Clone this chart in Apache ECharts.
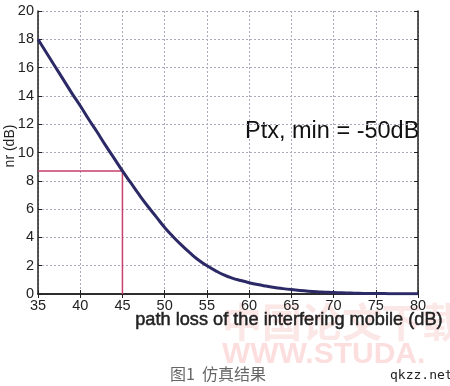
<!DOCTYPE html>
<html><head><meta charset="utf-8">
<script src="https://cdn.jsdelivr.net/npm/echarts@6/dist/echarts.min.js"></script>
<style>html,body{margin:0;padding:0;background:#fff}#c{width:450px;height:386px}</style>
</head><body><div id="c"></div>
<script>
var xValues = [35,36,37,38,39,40,41,42,43,44,45,46,47,48,49,50,51,52,53,54,55,56,57,58,59,60,61,62,63,64,65,66,67,68,69,70,71,72,73,74,75,76,77,78,79,80];
var nrValues = [18.0,17.05,16.1,15.15,14.2,13.3,12.35,11.45,10.5,9.6,8.7,7.85,7.0,6.2,5.45,4.7,4.05,3.45,2.9,2.4,2.0,1.65,1.35,1.12,0.95,0.8,0.67,0.56,0.46,0.38,0.31,0.25,0.2,0.16,0.13,0.1,0.08,0.07,0.05,0.04,0.03,0.03,0.02,0.02,0.01,0.01];
var markerX = [35,45,45];
var markerY = [8.7,8.7,0];
var annotation = "Ptx, min = -50dB";
var xTitle = "path loss of the interfering mobile (dB)";
var yTitle = "nr (dB)";
var caption = "图1  仿真结果";

var chart = echarts.init(document.getElementById('c'));
var font = '"Liberation Sans", Arial, sans-serif';
function frameAxis(pos){
  return {type:'value',position:pos,
    axisLine:{lineStyle:{color:'#222',width:1.5}},
    axisTick:{inside:true,length:4,lineStyle:{color:'#222'}},
    axisLabel:{show:false},splitLine:{show:false}};
}
var xTop = frameAxis('top'); xTop.min=35; xTop.max=80; xTop.interval=5;
var yRight = frameAxis('right'); yRight.min=0; yRight.max=20; yRight.interval=2;
chart.setOption({
  animation:false,
  backgroundColor:'#fff',
  grid:{left:38,right:32,top:11,bottom:92,show:false},
  xAxis:[{type:'value',min:35,max:80,interval:5,
    axisLine:{lineStyle:{color:'#222',width:1.5}},
    axisTick:{inside:true,length:4,lineStyle:{color:'#222'}},
    axisLabel:{color:'#222',fontSize:14.5,fontFamily:font,margin:4},
    splitLine:{show:true,lineStyle:{color:'#aaaabd',type:[2,2],width:1}}
  },xTop],
  yAxis:[{type:'value',min:0,max:20,interval:2,
    axisLine:{lineStyle:{color:'#222',width:1.5}},
    axisTick:{inside:true,length:4,lineStyle:{color:'#222'}},
    axisLabel:{color:'#222',fontSize:14.5,fontFamily:font,margin:4},
    splitLine:{show:true,lineStyle:{color:'#aaaabd',type:[2,2],width:1}}
  },yRight],
  series:[{type:'line',data:xValues.map(function(x,i){return [x,nrValues[i]];}),
    smooth:true,showSymbol:false,lineStyle:{color:'#2c2a66',width:3},z:3},
    {type:'line',data:markerX.map(function(x,i){return [x,markerY[i]];}),
    showSymbol:false,lineStyle:{color:'#c8406e',width:1.5},z:2}],
  graphic:[
    {type:'text',left:222,top:302,z:-1,style:{text:'中国论文下载',fontSize:40,fontWeight:'bold',fontFamily:'"Noto Sans CJK SC"',fill:'rgba(245,170,170,0.28)'}},
    {type:'text',left:222,top:340,z:-1,style:{text:'WWW.STUDA.',fontSize:30,fontWeight:'bold',fontFamily:font,fill:'rgba(245,160,160,0.35)'}},
    {type:'text',left:245,top:120,style:{text:annotation,fontSize:23.5,fontFamily:font,fill:'#111'}},
    {type:'text',left:135,top:311,style:{text:xTitle,fontSize:18.2,fontFamily:font,fill:'#222',stroke:'#222',lineWidth:0.5}},
    {type:'text',x:10,y:146,rotation:Math.PI/2,style:{text:yTitle,fontSize:14,fontFamily:font,fill:'#222',align:'center',verticalAlign:'middle'}},
    {type:'text',left:170,top:366,style:{text:caption,fontSize:16,fontFamily:'"Noto Sans CJK SC"',fill:'#666'}},
    {type:'text',left:390,top:369,style:{text:'qkzz.net',fontSize:13,fontFamily:'"DejaVu Sans Mono", monospace',fill:'#222'}}
  ]
});
</script></body></html>
